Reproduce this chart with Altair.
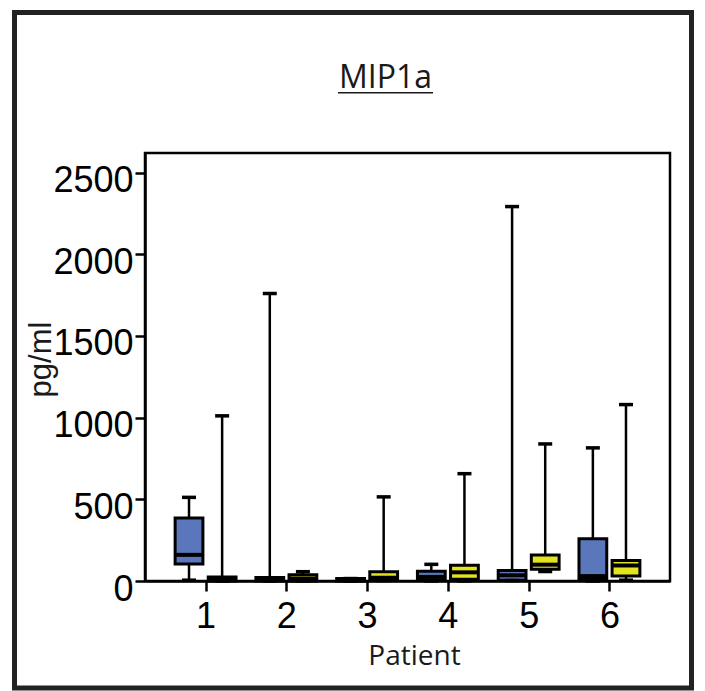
import altair as alt
import pandas as pd

# ---- data (pg/ml) ----
patients = [1, 1, 2, 2, 3, 3, 4, 4, 5, 5, 6, 6]
groups = ["A", "B", "A", "B", "A", "B", "A", "B", "A", "B", "A", "B"]
mins = [5, 0, 0, 0, 0, 3, 0, 0, 3, 58, 0, 5]
q1s = [104, 0, 0, 0, 0, 5, 5, 10, 5, 72, 12, 30]
medians = [160, 8, 8, 15, 5, 20, 25, 53, 35, 100, 30, 95]
q3s = [385, 25, 22, 39, 15, 57, 60, 96, 65, 159, 259, 126]
maxs = [512, 1011, 1760, 57, 15, 515, 102, 657, 2292, 839, 815, 1080]

group_colors = ["#5b77bc", "#e4e41e"]
y_ticks = [0, 500, 1000, 1500, 2000, 2500]
x_ticks = [1, 2, 3, 4, 5, 6]
chart_title = "MIP1a"

df = pd.DataFrame({
    "patient": patients, "group": groups, "min": mins, "q1": q1s,
    "median": medians, "q3": q3s, "max": maxs,
})

W, H = 525, 428
INK = "#1a1a1a"

xscale = alt.Scale(domain=[0.25, 6.75], nice=False, zero=False)
yscale = alt.Scale(domain=[0, 2620], nice=False, zero=False)

xaxis = alt.Axis(values=x_ticks, format="d", title="Patient", grid=False,
                 labelFont="Liberation Sans", labelFontSize=36, labelColor="black",
                 labelPadding=8, tickSize=10, tickWidth=2.5, tickColor="black",
                 domainColor="black", domainWidth=2.5,
                 titleFont="Open Sans", titleFontSize=28, titleFontWeight="normal",
                 titleColor=INK, titleX=269, titleY=83, titleBaseline="alphabetic")
yaxis = alt.Axis(values=y_ticks, format="d", title="pg/ml", grid=False,
                 labelFont="Liberation Sans", labelFontSize=36, labelColor="black",
                 labelPadding=2, labelOffset=8, tickSize=10, tickWidth=2.5,
                 tickColor="black", domainColor="black", domainWidth=2.5,
                 titleFont="Liberation Sans", titleFontSize=31, titleFontWeight="normal",
                 titleColor=INK, titleAngle=270, titleX=-104, titleY=206,
                 titleBaseline="middle", titleAlign="center")

base = alt.Chart(df).transform_calculate(
    xpos="datum.patient + (datum.group == 'A' ? -0.205 : 0.205)",
    lo="datum.patient + (datum.group == 'A' ? -0.205 : 0.205) - 0.172",
    hi="datum.patient + (datum.group == 'A' ? -0.205 : 0.205) + 0.172",
)

whisker = base.mark_rule(color="black", strokeWidth=2.5).encode(
    x=alt.X("xpos:Q", scale=xscale, axis=xaxis),
    y=alt.Y("min:Q", scale=yscale, axis=yaxis),
    y2="max:Q",
)
cap_top = base.mark_tick(orient="horizontal", size=14, thickness=3.5, color="black", opacity=1).encode(
    x=alt.X("xpos:Q", scale=xscale), y=alt.Y("max:Q", scale=yscale))
cap_bot = base.mark_tick(orient="horizontal", size=14, thickness=3.5, color="black", opacity=1).encode(
    x=alt.X("xpos:Q", scale=xscale), y=alt.Y("min:Q", scale=yscale))
box = base.mark_rect(stroke="black", strokeWidth=3, opacity=1).encode(
    x=alt.X("lo:Q", scale=xscale), x2="hi:Q",
    y=alt.Y("q1:Q", scale=yscale), y2="q3:Q",
    fill=alt.Fill("group:N", scale=alt.Scale(domain=["A", "B"], range=group_colors), legend=None),
)
median = base.mark_rule(color="black", strokeWidth=4).encode(
    x=alt.X("lo:Q", scale=xscale), x2="hi:Q", y=alt.Y("median:Q", scale=yscale))

deco = pd.DataFrame({"label": [chart_title]})
title_text = alt.Chart(deco).mark_text(
    font="Open Sans", fontSize=32, color=INK, align="center", baseline="alphabetic"
).encode(text="label:N", x=alt.value(240.5), y=alt.value(-64.7))
underline = alt.Chart(deco).mark_rule(color=INK, strokeWidth=1.6).encode(
    x=alt.value(193), x2=alt.value(288), y=alt.value(-60.3))
frame = alt.Chart(deco).mark_rect(fillOpacity=0, stroke="#222222", strokeWidth=5).encode(
    x=alt.value(-130.5), x2=alt.value(546.5), y=alt.value(-140.5), y2=alt.value(535))

chart = alt.layer(whisker, box, median, cap_top, cap_bot, title_text, underline, frame).properties(
    width=W, height=H,
    autosize=alt.AutoSizeParams(type="none"),
    padding={"left": 137, "top": 145, "right": 27, "bottom": 110},
).configure(background="white").configure_view(stroke="black", strokeWidth=2.5)

chart.save("out.html", embed_options={"renderer": "svg", "actions": False})
